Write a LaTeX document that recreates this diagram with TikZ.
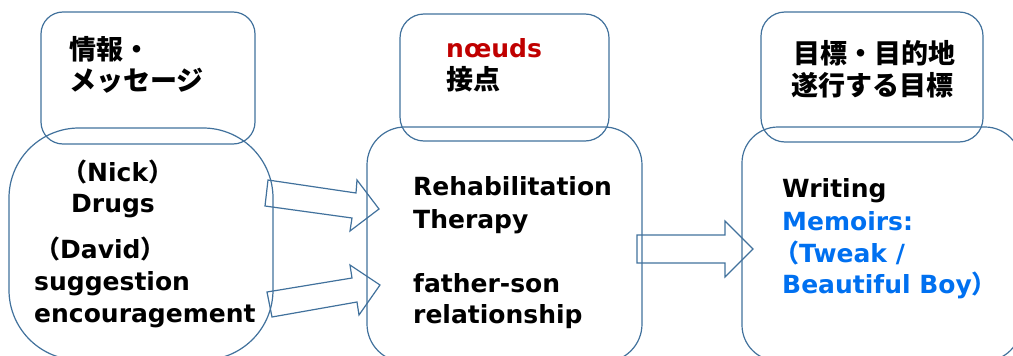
\documentclass[tikz,border=0pt]{standalone}
\usepackage{fontspec}
\setmainfont{DejaVu Sans}
\newfontfamily\jp{Noto Sans CJK JP}
\definecolor{edge}{RGB}{65,113,156}
\definecolor{redt}{RGB}{192,0,0}
\definecolor{bluet}{RGB}{0,112,240}
\tikzset{
 box/.style={draw=edge, line width=1.2pt, inner sep=0pt},
 lat/.style={anchor=base west, inner sep=0pt, font=\bfseries\fontsize{25}{29}\selectfont},
 jpt/.style={anchor=base west, inner sep=0pt, font=\jp\bfseries\fontsize{27}{31}\selectfont},
 barrow/.style={draw=edge, line width=1.2pt, line join=miter},
}
\begin{document}
\begin{tikzpicture}[x=1pt,y=-1pt]
\useasboundingbox (0,0) rectangle (1013,356);
\clip (0,0) rectangle (1013,356);
% boxes
\node[box, rounded corners=22pt, minimum width=214pt, minimum height=132pt] (infoTop) at (148,78) {};
\node[box, rounded corners=70pt, minimum width=264pt, minimum height=232pt] (infoBot) at (141,244) {};
\node[box, rounded corners=24pt, minimum width=209pt, minimum height=127pt] (nodeTop) at (504.5,77.5) {};
\node[box, rounded corners=38pt, minimum width=275pt, minimum height=235pt] (nodeBot) at (504.5,244.5) {};
\node[box, rounded corners=24pt, minimum width=222pt, minimum height=130pt] (goalTop) at (872,77) {};
\node[box, rounded corners=36pt, minimum width=279pt, minimum height=234pt] (goalBot) at (881.5,244) {};
% block arrows
\draw[barrow] (268,180) -- (356,193) -- (357,180) -- (379,209) -- (350,231) -- (352,218) -- (265,206) -- cycle;
\draw[barrow] (267,292) -- (352,278) -- (350,265) -- (380,285) -- (359,315) -- (357,302) -- (272,317) -- cycle;
\draw[barrow] (637,235) -- (725,235) -- (725,221) -- (753,249) -- (725,277) -- (725,263) -- (637,263) -- cycle;
% texts: left
\node[jpt] (t1) at (69,59) {情報・};
\node[jpt] (t2) at (69,90) {メッセージ};
\node[lat] (t3) at (62,181) {{\jp （}Nick{\jp ）}};
\node[lat] (t4) at (71,212) {Drugs};
\node[lat] (t5) at (35,258) {{\jp （}David{\jp ）}};
\node[lat] (t6) at (34,290) {suggestion};
\node[lat] (t7) at (34,322) {encouragement};
% middle
\node[lat, text=redt] (t8) at (446,57) {nœuds};
\node[jpt] (t9) at (446,89) {接点};
\node[lat] (t10) at (413,195) {Rehabilitation};
\node[lat] (t11) at (413,228) {Therapy};
\node[lat] (t12) at (413,292) {father-son};
\node[lat] (t13) at (413,323) {relationship};
% right
\node[jpt] (t14) at (793,63) {目標・目的地};
\node[jpt] (t15) at (791,95) {遂行する目標};
\node[lat] (t16) at (782,197) {Writing};
\node[lat, text=bluet] (t17) at (782,230) {Memoirs:};
\node[lat, text=bluet] (t18) at (774,262) {{\jp （}Tweak /};
\node[lat, text=bluet] (t19) at (782,293) {Beautiful Boy{\jp ）}};
\end{tikzpicture}
\end{document}
